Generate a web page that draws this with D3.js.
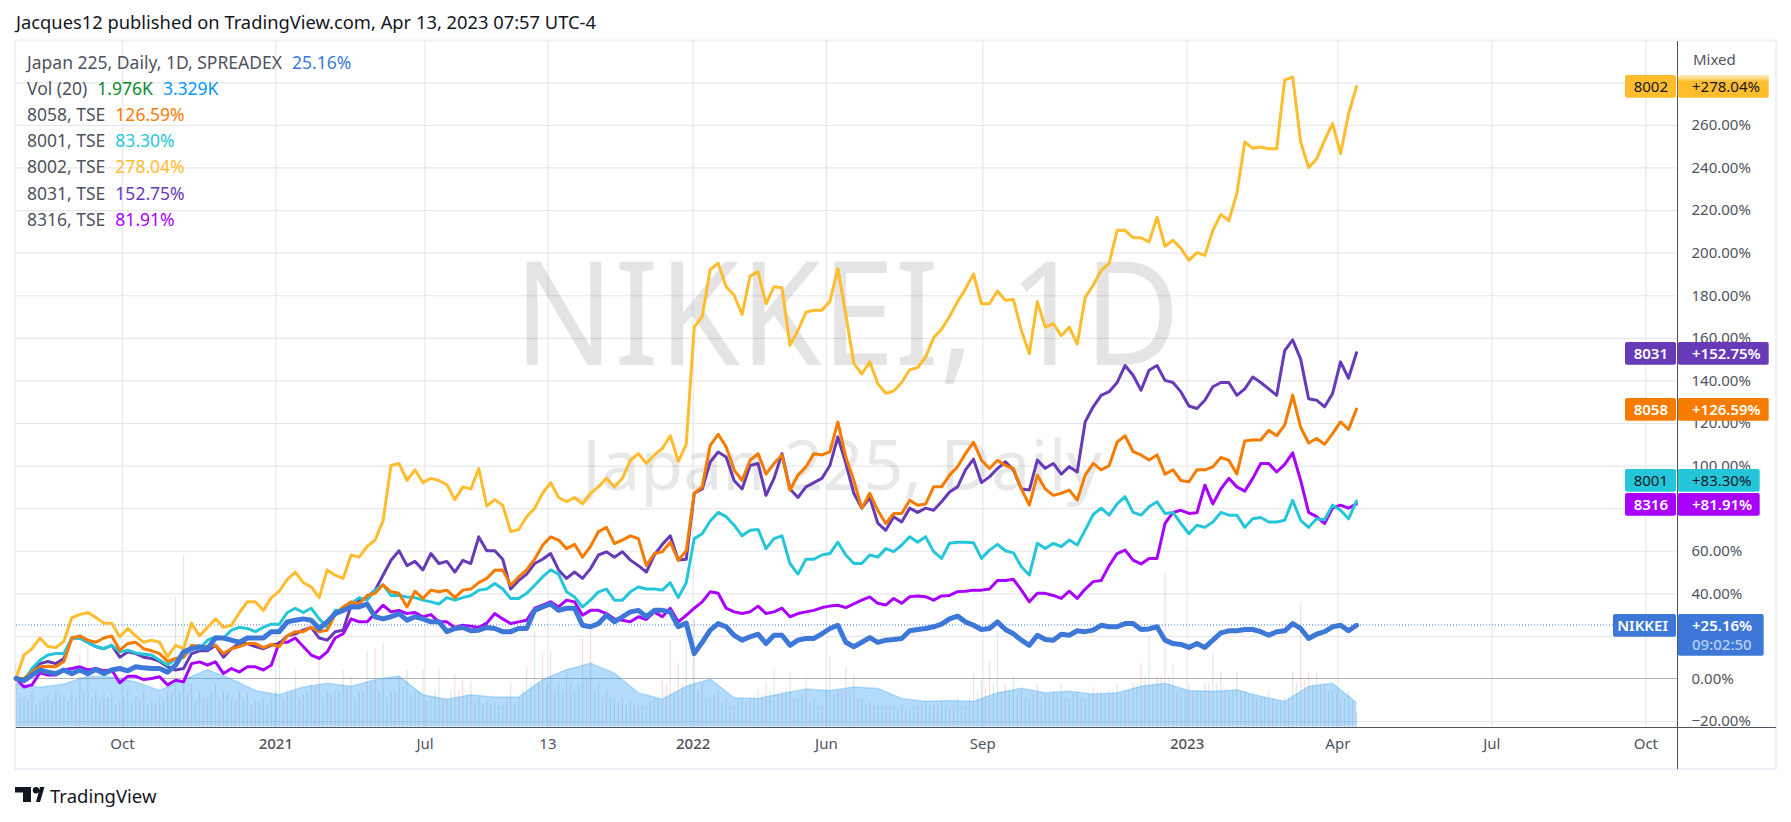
<!DOCTYPE html>
<html><head><meta charset="utf-8">
<script src="https://cdn.jsdelivr.net/npm/d3@7"></script>
<style>
html,body{margin:0;padding:0;background:#fff;overflow:hidden}
svg{display:block}
text{font-family:"Noto Sans",sans-serif}
</style></head><body>
<svg id="c" width="1791" height="822"></svg>
<script>
// ---------- data (percent change, one reading per week-ish sample) ----------
const gold8002=[0,11,14,19,15,14.5,17.5,28.6,30,31,
28.6,26,26,19.5,23.5,20,17,18,17,10,
15.6,14,26,20,24,28,24,25,31,36,
36,32,38,41,46.5,50,45,43,38,51,
48.5,47,58,57,62,65,74,100,101,93,
98,92,94,93,91,84,90,89,98.6,81,
84,81.4,69,70,76,80,87,92,85,83,
85,82,87,90,94,90,94,102.5,105.6,101,
105,108,114,102,110,165,170,192,195,184,
180,171,189,191,176,184,183.5,156.5,163.5,172,
173,173,177,192.5,171,148,143,148.7,138.5,134,
135,139,145,146,151,160,164,170,177,183,
190,176,176,182,177.6,178,163.5,152.5,177,165,
166.7,161,165,157,179,184.7,191.7,195,210.5,210.5,
207,207,205,216.7,203,205.8,202,196.4,200,198.7,
210.5,218,215,227.7,252,249,249.6,248.8,248.8,281,
282.5,252,240,244,252.7,260.6,246.5,265,278];
const purple8031=[0,-1,4,7,8,7,9.4,19,19,17,
15,14,15.6,10,12.5,11.7,10,9.4,8,5.5,
4,4.7,11.7,13,13,15.6,10,14,16.4,16.4,
15,14,15.6,16.4,20,21,22.7,24,19,18,
22,22.7,34.4,36.8,38,41.5,48.5,55.5,60,53,
55,51,58.7,54,55,50,55.5,54,66.5,60,
60,56,42,46,49,54,56,58.7,51,47,
50,47,51.6,58,59.5,57,59.5,55.6,53,50,
58,63,67,55.6,56,87,89,101.7,106.4,104,
93,89,100,101,86,94,105.6,89,85,90,
92,94,100,113.5,101,87,80,85,73,69.6,
76,73.5,80,78,80,79,83,87.6,90,98,
103,92,94.7,98.6,101.8,98,89,88.5,102.6,98.7,
101,96,99.5,97,120.6,127.6,133,134.7,139,147,
142.4,135.4,144.8,147,140,139,134.6,128,126.8,130.7,
137,139,139,133,136,141.6,139,136,133,154,
159,150,131.4,130.7,127.6,133.8,148.7,141,153];
const orange8058=[0,0,3,5.5,5.8,5.5,8,19,20,18,
17,19,20,13.3,16.4,17,14,13,11.7,8,
9.4,10,15.6,15,15,15.6,11.7,14,15,16.4,
16.4,14.5,16,15,20,22,22,24,22,22.7,
30,33.6,36,35,39,40,44,40.7,40,33.6,
41,37.6,41.5,40.7,41.5,38,41.5,42,45,47,
50.8,51,43.8,47.7,51,56,62.6,66.5,65,61,
63,57,62,69,71,63.4,65,67,65.7,53,
58.7,59.5,64,55.5,60,87,90,109.5,114.7,108.8,
98,93,102.5,105.6,96,101,105,88.4,95.5,99.4,
105.6,105,106.4,120.5,104,93,80,87,79,72.8,
77.5,77.5,83.7,81.4,82,90,90,95.5,99.4,105.6,
111,102.5,98.6,102.5,100,98.7,89,81.4,95.5,89,
86,87,88.5,83.8,95.5,101,98,100,111,114,
106.5,105,102.6,105,96,98,93,92.4,98,98,
99.4,103.8,102.5,96,111.6,112,112,116.6,114,119,
133,118,110.6,112.7,110,115,120.5,117,126.6];
const teal8001=[0,-1,4.7,8.6,11,11.7,11.7,19,19,17,
15,14,15.6,12.5,13.3,12,11.4,11,8.6,6.3,
9.4,10,14,14,18,19.6,19,22.7,24,23.5,
22,24,25.5,25.5,31,33,31,33,28,24,
32,32,35,38,36.8,41.5,44,39,39,38.3,
38,36.8,36,35,38,36.8,38,39,41.5,42,
44.6,42,37.6,37.6,40,43.8,47.7,51,49,40.7,
38.3,33.6,36.8,40.7,42,36.8,36.8,40.7,43,42,
42,41.5,45,38,45,65.7,68,74,78,76,
72,67,69.6,70,61,65.7,67,54,49,56,
56,58,58.7,64,58,54,54,58,57,61,
59.6,62.7,66.6,64,66.6,59.6,56.4,63.5,64,64,
63.8,56.4,60.3,63,60,59,52.5,48.6,63.5,61,
63.5,62,65,62.7,69.7,77,80,76.7,82,85.4,
78,76.7,80.7,83,77.5,78,72.8,68,72,71,
73.5,78,76.7,76.7,71,75,75.6,73.5,73.5,74.3,
83.7,74.3,71,75,74.6,81.4,79,75,83.3];
const violet8316=[0,-4,-3,2.7,1.6,1.6,4,4.7,5.5,4,
4.7,3.6,4,-2,1,1,-0.5,0,0.8,-3,
-0.8,-1.6,7,7.8,6.3,7.8,2.3,4.7,3,5.5,
5.5,4,6.3,17,17,19,15,11,9.4,12.5,
19,21,28,26.6,26.6,30.5,34.4,31.3,32,30.5,
31,29,30,26.6,26.6,24,25,24.6,24,26,
30.5,28,25.8,26.6,27.4,33,34.4,36,33.6,36.8,
36,29.7,32,32,30.5,28,27.4,26.6,29,27.7,
31.3,29,33,26.6,29.7,33,36,40.7,40,33,
31.3,30.5,31.3,34,30.5,31.3,33,29,30.5,31.3,
32,33.3,34,34.4,33.3,35,36.8,38.3,35.3,34.5,
37.6,35.3,38.4,38.8,38.4,36.8,38.8,39,40.8,41,
41.5,41.5,42,46,46,46.6,41.5,36,40,40,
39,37.6,41,37.6,42,45.5,46,53,58.7,60.3,
55.6,53.8,56.4,56.4,72.8,78,79,77.5,77.8,90.8,
82,89,94,90,88,94,101,101,97,100.6,
106,93,78,76,72.8,80,81.4,80,82];
const nikkei=[0,-1,1.6,4,3,2.3,4,2.3,4,2.3,
4.2,2.3,4,4.7,3.6,5.5,5,4.7,4.7,3,
6.3,12.5,14,15,14,19,19,18,17,19,
19,19,22,22,26.6,27.4,28,27.4,23.5,26.6,
30.5,32,33.6,33.6,35,29,28,29,30.5,27.4,
29,28,26.6,26.6,22,23.5,24,22.4,22.7,24,
23.5,22,22,23.5,23.5,32,33.6,35,32,33,
33,25,24.3,25.8,29.7,26.6,29,31.3,32,29,
32,32,31.3,24.3,26,11.7,17,22.7,25.8,24.3,
20.3,18,19.6,20.8,16.4,20.3,20.3,15.6,18,18.8,
18.8,21,23.5,25,17,14.9,17,19.2,17,18,
18.3,18.8,22.4,23,23.5,24.3,25.5,28,29.3,26.6,
25,23,23.5,26.6,23,21,18,15.6,20.3,18.3,
18,20.8,20.3,22.4,22,22.7,25,24.3,24.3,25.8,
25.8,23,23.3,24.3,18,16.4,16,14.6,16.4,14.6,
18,21.4,22.4,22.4,23,23,22,20.3,22,22.4,
25.8,23.5,18.8,20.8,22,24.3,25,22.4,25];
// volume (K) and its 20-period average (read every third sample)
const volumes=[8.8,4,5,3.5,4.5,5,4,5,10,11,
5,4,4.5,3.5,5,4,5,3.5,4,5,
18,23.7,6,5,4,6,5,4,5,4.5,
3.5,4,4,10,5,8,4.5,6,9.7,5,
5,7.9,7,5,10.4,10.9,11.6,5,7,7.9,
5,7.9,4,8,4,7.2,6.5,6.2,4,3.5,
3.5,3,6,4,8.3,13.2,10,10.4,6,7.6,
5,12.3,14.6,6,5,4,4,3.5,3,3,
4,6.5,12,8.8,15.3,15,6,4,5,4,
3,4,4,5.3,6,8,5,7.6,4,6.7,
4,3,9.7,5,8.3,7.2,4,3.5,3,3,
3,3,2.5,3,3.5,3,3.5,2.5,4,3,
7.4,6.5,9,13.2,6,7,5,4,6,4.5,
5,6,4,5,4,5.5,5,5,6,5,
6,8.8,12.6,7,21.3,8.7,5,6,5,6,
10.3,7.6,5,7.6,5,4.5,4,5,3.5,4,
7.6,17.3,7.5,7.5,6,5,4,5,1.976];
const volumeDirs="rgrggrgrrr"+"grgrggrgrg"+"ggrgrgrgrg"+"rgggrgrgrg"+"rgrgrrgrrg"+"grggrrrrgr"+"grrgggrrgr"+"grrgrgrgrg"+"grrrggrgrg"+"rgrgrgrrgr"+"grgrrrgrgr"+"grgrgrgrgr"+"rgrgrgrgrg"+"grgrgrgrgr"+"grgrrrgrgr"+"grgrgrgrgr"+"grrgrgrgg";
// bars between the samples above, read less closely
const volumesBetween=[4,3.5,3,4,3.5,4.5,3.5,4,5,4,
3.5,4,3,4,3.5,4,3,3.5,4,5,
5,4.5,3.5,4,5,4,4.5,3.5,4,3,
3.5,3,5,4,5,4,5,5.5,4,4.5,
5,5.5,4,5,6,5,4,5,5.5,4.5,
5,3.5,5,4,5,5,4.5,3.5,3,3,
3,4,3.5,5,6,6,6,5,5,6,
6,7,5,4,4,3.5,3,3,3,3.5,
4,6,5,6,6,5,4,4.5,3.5,3,
3.5,3.5,4.5,4.5,5,4.5,5,4,4.5,3.5,
3,5,4.5,5,5,4,3,3,3,3,
2.5,2.5,3,3,3,3,3,3,3,4,
5,5.5,6,5,5,4.5,4,4.5,4,4.5,
4.5,4,4.5,4,4.5,5,4.5,5,4.5,5,
6,7,6,7,7,5,5,5,5,6,
6,5,5,5,4.5,4,4,4,3.5,4,
6,6.5,6,6,5,4.5,4,3.5];
const volumeMA=[6,5.46,5.9,7,6.9,6.2,5,6.5,7.9,6.6,
5,4.4,5.5,6,5.6,6.5,7,4.4,3.8,4.4,
4.1,4.1,6.5,7.9,8.8,7.4,4.7,3.8,5.6,6.6,
4,3.9,4.6,5.2,5,5.5,5.3,3.9,3.5,3.6,
3.5,4.7,5.3,4.7,4.9,4.5,4.7,5.6,6,5,
4.9,5.1,4.2,3.5,5.6,6,3.329];
const volumeMAStep=3;

// time axis: labels and the sample number they fall on
const timeLabels=["Oct","2021","Jul","13","2022","Jun","Sep","2023","Apr","Jul","Oct"];
const timeTicks=[13.28,32.5,51.2,66.6,84.8,101.5,121.1,146.7,165.6,184.9,204.2];
const yearLabels=["2021","2022","2023"];
const priceTicks=[280,260,240,220,200,180,160,140,120,100,80,60,40,20,0,-20];

const seriesNames=["8316","8031","8002","8001","8058","NIKKEI"];
const seriesValues=[violet8316,purple8031,gold8002,teal8001,orange8058,nikkei];
const seriesColors=["#aa00ff","#673ab7","#ffbd2e","#26c6da","#f57c00","#3d78d8"];
const seriesWidths=[3,3,3,3,3,5];

// right-hand labels
const tagNames=["8002","8031","8058","8001","8316","NIKKEI"];
const tagValues=["+278.04%","+152.75%","+126.59%","+83.30%","+81.91%","+25.16%"];
const tagColors=["#ffbd2e","#673ab7","#f57c00","#26c6da","#aa00ff","#3d78d8"];
const tagText=["#131722","#fff","#fff","#131722","#fff","#fff"];
const tagTops=[75,342,398,469,493,614];
const tagLeft=[1625,1625,1625,1625,1625,1613];
const tagRight=[1768.7,1768.7,1768.7,1759.7,1759.7,1763.7];

// legend
const legendNames=["Japan 225, Daily, 1D, SPREADEX","Vol (20)","8058, TSE","8001, TSE","8002, TSE","8031, TSE","8316, TSE"];
const legendValues=[["25.16%"],["1.976K","3.329K"],["126.59%"],["83.30%"],["278.04%"],["152.75%"],["81.91%"]];
const legendColors=[["#3d78d8"],["#0a8a2a"],["#f57c00"],["#26c6da"],["#ffbd2e"],["#673ab7"],["#aa00ff"]];
legendColors[1].push("#0097ff");

// ---------- layout ----------
const svg=d3.select("#c");
const L=16,R=1677.5,T=41,B=727.5;
const x=d3.scaleLinear().domain([0,168]).range([16,1356.5]);
const y=d3.scaleLinear().domain([0,280]).range([678.5,82.3]);
const volY=d3.scaleLinear().domain([0,10]).range([726.5,654.5]);
const GRID="#e8e8ec", AXIS="#50535e", TXT="#50535e";

svg.append("text").attr("x",16).attr("y",29).attr("font-size",18).attr("fill","#131722")
  .attr("textLength",580).attr("lengthAdjust","spacingAndGlyphs")
  .text("Jacques12 published on TradingView.com, Apr 13, 2023 07:57 UTC-4");

// frame
svg.append("rect").attr("x",15).attr("y",40.5).attr("width",1761).attr("height",728.5)
  .attr("fill","none").attr("stroke","#f0f1f7").attr("stroke-width",2);

// grid + axes
const gx=svg.append("g").attr("transform",`translate(0,${B})`)
  .call(d3.axisBottom(x).tickValues(timeTicks).tickFormat((d,i)=>timeLabels[i]).tickSize(-(B-T)).tickPadding(11));
gx.select(".domain").remove();
gx.selectAll("line").attr("stroke",GRID).attr("stroke-width",1.2);
gx.selectAll("text").attr("font-size",15).attr("fill",TXT).attr("font-family",'"Noto Sans",sans-serif')
  .attr("font-weight",(d,i)=>yearLabels.includes(timeLabels[i])?500:400);

const gy=svg.append("g").attr("transform",`translate(${R},0)`)
  .call(d3.axisRight(y).tickValues(priceTicks).tickFormat(d=>(d<0?"\u2212"+Math.abs(d):d)+".00%").tickSize(0).tickPadding(14));
gy.select(".domain").remove();
gy.selectAll("text").attr("font-size",15).attr("fill",TXT).attr("font-family",'"Noto Sans",sans-serif');
gy.selectAll(".tick").filter(d=>d===280).select("text").remove();
svg.append("g").attr("transform",`translate(${L},0)`)
  .call(d3.axisLeft(y).tickValues(priceTicks.filter(d=>d!==0)).tickFormat("").tickSize(-(R-L)))
  .call(g=>g.select(".domain").remove())
  .call(g=>g.selectAll("line").attr("stroke",GRID).attr("stroke-width",1.2));

// watermarks
svg.append("text").attr("x",514).attr("y",365).attr("font-size",144)
  .attr("textLength",666).attr("lengthAdjust","spacingAndGlyphs")
  .attr("fill","rgba(0,0,0,.105)").text("NIKKEI, 1D");
svg.append("text").attr("x",582).attr("y",490).attr("font-size",70)
  .attr("textLength",520).attr("lengthAdjust","spacingAndGlyphs")
  .attr("fill","rgba(0,0,0,.09)").text("Japan 225, Daily");

// zero line
svg.append("line").attr("x1",L).attr("x2",R).attr("y1",y(0)).attr("y2",y(0)).attr("stroke","#b2b5be").attr("stroke-width",1.2);

// volume
const barFill=(up)=>up?"rgba(60,160,110,.2)":"rgba(200,90,90,.2)";
svg.append("g").selectAll("rect").data(volumes).join("rect")
  .attr("x",(d,i)=>x(i)-.6).attr("width",1.2)
  .attr("y",d=>volY(d)).attr("height",d=>volY(0)-volY(d))
  .attr("fill",(d,i)=>barFill(volumeDirs[i]==="g"));
svg.append("g").selectAll("rect").data(volumesBetween).join("rect")
  .attr("x",(d,i)=>x(i+.5)-.6).attr("width",1.2)
  .attr("y",d=>volY(d)).attr("height",d=>volY(0)-volY(d))
  .attr("fill",(d,i)=>barFill(i%2===0));
const maPts=volumeMA.map((v,k)=>[k*volumeMAStep,v]);
svg.append("path").datum(maPts)
  .attr("d",d3.area().x(d=>x(d[0])).y0(volY(0)).y1(d=>volY(d[1])))
  .attr("fill","rgba(33,150,243,.34)");
svg.append("path").datum(maPts)
  .attr("d",d3.line().x(d=>x(d[0])).y(d=>volY(d[1])))
  .attr("fill","none").attr("stroke","rgba(33,150,243,.25)").attr("stroke-width",1.5);

// last-price dotted line
svg.append("line").attr("x1",L).attr("x2",1613).attr("y1",y(25.16)).attr("y2",y(25.16))
  .attr("stroke","#3d78d8").attr("stroke-width",1).attr("stroke-dasharray","1 2");

// series
const line=d3.line().x((d,i)=>x(i)).y(d=>y(d)).curve(d3.curveLinear);
svg.append("g").selectAll("path").data(seriesValues).join("path")
  .attr("d",line).attr("fill","none")
  .attr("stroke",(d,i)=>seriesColors[i]).attr("stroke-width",(d,i)=>seriesWidths[i])
  .attr("stroke-linejoin","round").attr("stroke-linecap","round");

// axis lines
svg.append("line").attr("x1",L).attr("x2",1776).attr("y1",B).attr("y2",B).attr("stroke",AXIS).attr("stroke-width",1);
svg.append("line").attr("x1",R).attr("x2",R).attr("y1",T).attr("y2",769).attr("stroke",AXIS).attr("stroke-width",1);
svg.append("text").attr("x",1693).attr("y",65).attr("font-size",15).attr("fill",TXT).text("Mixed");

// tags
const defs=svg.append("defs");
const grad=defs.append("linearGradient").attr("id","shine").attr("x1",0).attr("x2",0).attr("y1",0).attr("y2",1);
grad.append("stop").attr("offset",0).attr("stop-color","#fff").attr("stop-opacity",.75);
grad.append("stop").attr("offset",.3).attr("stop-color","#fff").attr("stop-opacity",0);
const tags=svg.append("g").selectAll("g").data(tagNames).join("g");
tags.append("rect").attr("x",(d,i)=>tagLeft[i]).attr("y",(d,i)=>tagTops[i]).attr("rx",2)
  .attr("width",(d,i)=>1676-tagLeft[i]).attr("height",22.8).attr("fill",(d,i)=>tagColors[i]);
tags.append("rect").attr("x",1677.8).attr("y",(d,i)=>tagTops[i]).attr("rx",2)
  .attr("width",(d,i)=>tagRight[i]-1677.8).attr("height",(d,i)=>d==="NIKKEI"?41.7:22.8).attr("fill",(d,i)=>tagColors[i]);
svg.append("rect").attr("x",1677.8).attr("y",tagTops[0]).attr("width",tagRight[0]-1677.8).attr("height",22.8).attr("fill","url(#shine)");
tags.append("text").attr("x",1668).attr("y",(d,i)=>tagTops[i]+17).attr("text-anchor","end").attr("font-size",15)
  .attr("font-weight",(d,i)=>tagText[i]==="#fff"?600:400).attr("fill",(d,i)=>tagText[i]).text(d=>d);
tags.append("text").attr("x",1692).attr("y",(d,i)=>tagTops[i]+17).attr("font-size",15)
  .attr("font-weight",(d,i)=>tagText[i]==="#fff"?600:400).attr("fill",(d,i)=>tagText[i]).text((d,i)=>tagValues[i]);
svg.append("text").attr("x",1692).attr("y",tagTops[5]+36).attr("font-size",15).attr("fill","#b8cff3").attr("font-weight",500).text("09:02:50");

// legend
const lg=svg.append("g").selectAll("text").data(legendNames).join("text")
  .attr("x",27).attr("y",(d,i)=>69+i*26.1).attr("font-size",17.5).attr("fill","#50535e");
lg.append("tspan").text(d=>d);
lg.each(function(d,i){
  const t=d3.select(this);
  legendValues[i].forEach((v,j)=>{
    t.append("tspan").attr("dx",10).attr("fill",legendColors[i][j]).text(v);
  });
});

// TradingView mark
const logo=svg.append("g").attr("fill","#131722");
logo.append("path").attr("d","M15 787H31V802H23V792.5H15Z");
logo.append("circle").attr("cx",36).attr("cy",790.2).attr("r",3.2);
logo.append("path").attr("d","M36 802L40 787H44.5L40 802Z");
svg.append("text").attr("x",50).attr("y",803).attr("font-size",18.5).attr("fill","#131722").text("TradingView");
</script>
</body></html>
